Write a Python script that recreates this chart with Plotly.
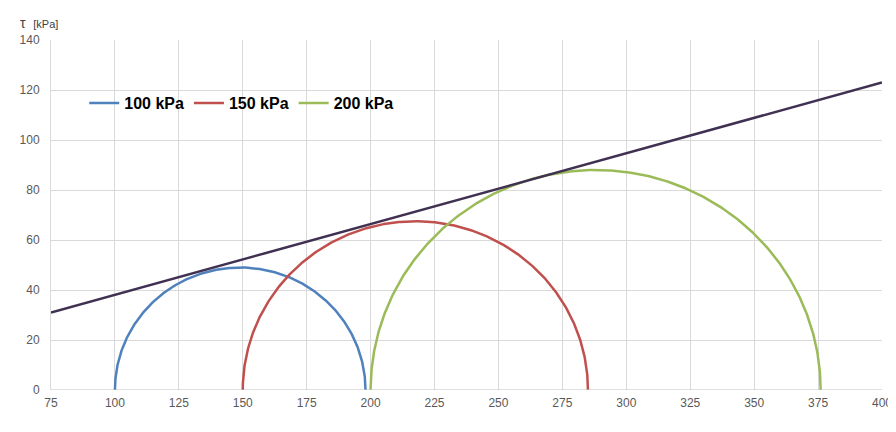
import numpy as np
import plotly.graph_objects as go

labels = ["100 kPa", "150 kPa", "200 kPa"]
sigma3 = [100, 150, 200]
sigma1 = [198, 285, 376]
colors = ["#4f81bd", "#c0504d", "#9bbb59"]
env_sigma = [75, 400]
env_tau = [31, 123]

fig = go.Figure()
t = np.linspace(0, np.pi, 361)
for lab, s3, s1, c in zip(labels, sigma3, sigma1, colors):
    cen = (s1 + s3) / 2
    r = (s1 - s3) / 2
    fig.add_trace(go.Scatter(x=cen + r * np.cos(t), y=r * np.sin(t), mode="lines",
                             line=dict(color=c, width=2.5), name="<b>" + lab + "</b>"))
fig.add_trace(go.Scatter(x=env_sigma, y=env_tau, mode="lines",
                         line=dict(color="#403152", width=2.5), showlegend=False))

fig.update_layout(
    width=896, height=432, plot_bgcolor="white", paper_bgcolor="white",
    margin=dict(l=42, r=18, t=32, b=50),
    font=dict(family="Liberation Sans, Arial", color="#595959", size=12),
    legend=dict(orientation="h", x=0.04, y=0.82, xanchor="left", yanchor="middle",
                font=dict(size=16, color="black", family="Liberation Sans, Arial"),
                bgcolor="rgba(0,0,0,0)", itemwidth=30, tracegroupgap=0),
    xaxis=dict(range=[75, 400], dtick=25, showgrid=True, gridcolor="#d9d9d9",
               zeroline=False, ticks="", showline=False, ticklabelstandoff=4),
    yaxis=dict(range=[0, 140], dtick=20, showgrid=True, gridcolor="#d9d9d9",
               zeroline=False, ticks="", showline=True, linecolor="#d9d9d9",
               ticklabelstandoff=8),
    annotations=[
        dict(text="τ  <span style='font-size:11px'>[kPa]</span>", xref="paper", yref="paper",
             x=-0.04, y=1.02, xanchor="left", yanchor="bottom", showarrow=False,
             font=dict(size=14, color="#404040")),
        dict(text="σ  <span style='font-size:11px'>[kPa]</span>", xref="paper", yref="paper",
             x=1.0, y=-0.1, xanchor="right", yanchor="top", showarrow=False,
             font=dict(size=14, color="#404040")),
    ],
)
fig.add_shape(type="line", xref="paper", yref="y", x0=0, x1=1, y0=0, y1=0,
              line=dict(color="#bfbfbf", width=1))
fig.write_html("out.html")
